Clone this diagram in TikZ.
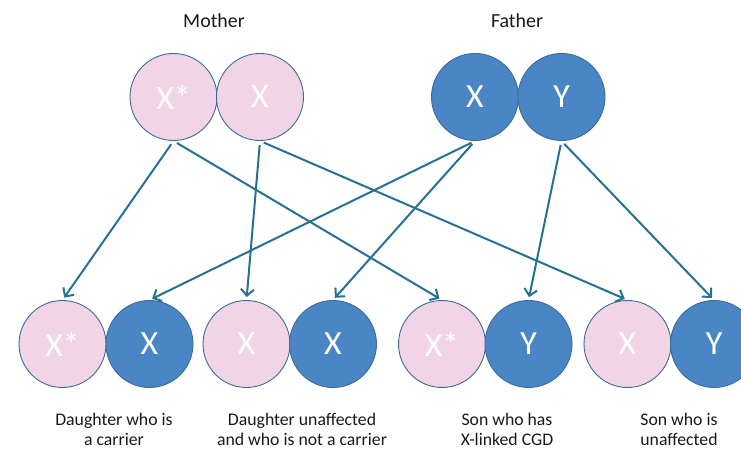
\documentclass[tikz,border=0pt]{standalone}
\usepackage{fontspec}
\setmainfont{Carlito}
\usetikzlibrary{arrows.meta}
\definecolor{pinkfill}{RGB}{241,212,229}
\definecolor{bluefill}{RGB}{74,133,197}
\definecolor{rimblue}{RGB}{58,108,150}
\definecolor{arrowteal}{RGB}{38,112,148}
\definecolor{labelgray}{RGB}{25,25,25}
\begin{document}
\begin{tikzpicture}[x=1bp,y=-1bp,
  gene/.style={circle, minimum size=87bp, inner sep=0pt, draw=rimblue, line width=0.9bp, text=white, font=\fontsize{34}{34}\selectfont},
  pinkgene/.style={gene, fill=pinkfill},
  bluegene/.style={gene, fill=bluefill},
  parentlabel/.style={font=\fontsize{20}{24}\selectfont, text=labelgray, inner sep=0pt, anchor=base},
  childlabel/.style={font=\fontsize{17.8}{20}\selectfont, text=labelgray, align=center, inner sep=0pt, anchor=north},
  inherit/.style={draw=arrowteal, line width=2bp, -{Straight Barb[length=6.5bp,width=13bp]}, shorten <=4bp, shorten >=3bp}
]
\useasboundingbox (0,0) rectangle (741,451);

% parent labels
\node[parentlabel] (mlab) at (214,28) {Mother};
\node[parentlabel] (flab) at (517,28) {Father};

% parents
\node[pinkgene] (mxs) at (173.5,97) {X*};
\node[pinkgene] (mx)  at (260,97)   {X};
\node[bluegene] (fx)  at (475,97)   {X};
\node[bluegene] (fy)  at (561.5,97) {Y};

% children
\node[pinkgene] (d1a) at (62.5,344)  {X*};
\node[bluegene] (d1b) at (149.5,344) {X};
\node[pinkgene] (d2a) at (246.5,344) {X};
\node[bluegene] (d2b) at (333,344)   {X};
\node[pinkgene] (s1a) at (442,344)   {X*};
\node[bluegene] (s1b) at (528.5,344) {Y};
\node[pinkgene] (s2a) at (627.5,344) {X};
\node[bluegene] (s2b) at (714,344)   {Y};

% inheritance arrows
\draw[inherit] (mxs.south) -- (d1a.north);
\draw[inherit] (mxs.south) -- (s1a.north);
\draw[inherit] (mx.south)  -- (d2a.north);
\draw[inherit] (mx.south)  -- (s2a.north);
\draw[inherit] (fx.south)  -- (d1b.north);
\draw[inherit] (fx.south)  -- (d2b.north);
\draw[inherit] (fy.south)  -- (s1b.north);
\draw[inherit] (fy.south)  -- (s2b.north);

% child labels
\node[childlabel] (l1) at (114,413) {Daughter who is\\a carrier};
\node[childlabel] (l2) at (302,413) {Daughter unaffected\\and who is not a carrier};
\node[childlabel] (l3) at (507,413) {Son who has\\X-linked CGD};
\node[childlabel] (l4) at (679,413) {Son who is\\unaffected};
\end{tikzpicture}
\end{document}
